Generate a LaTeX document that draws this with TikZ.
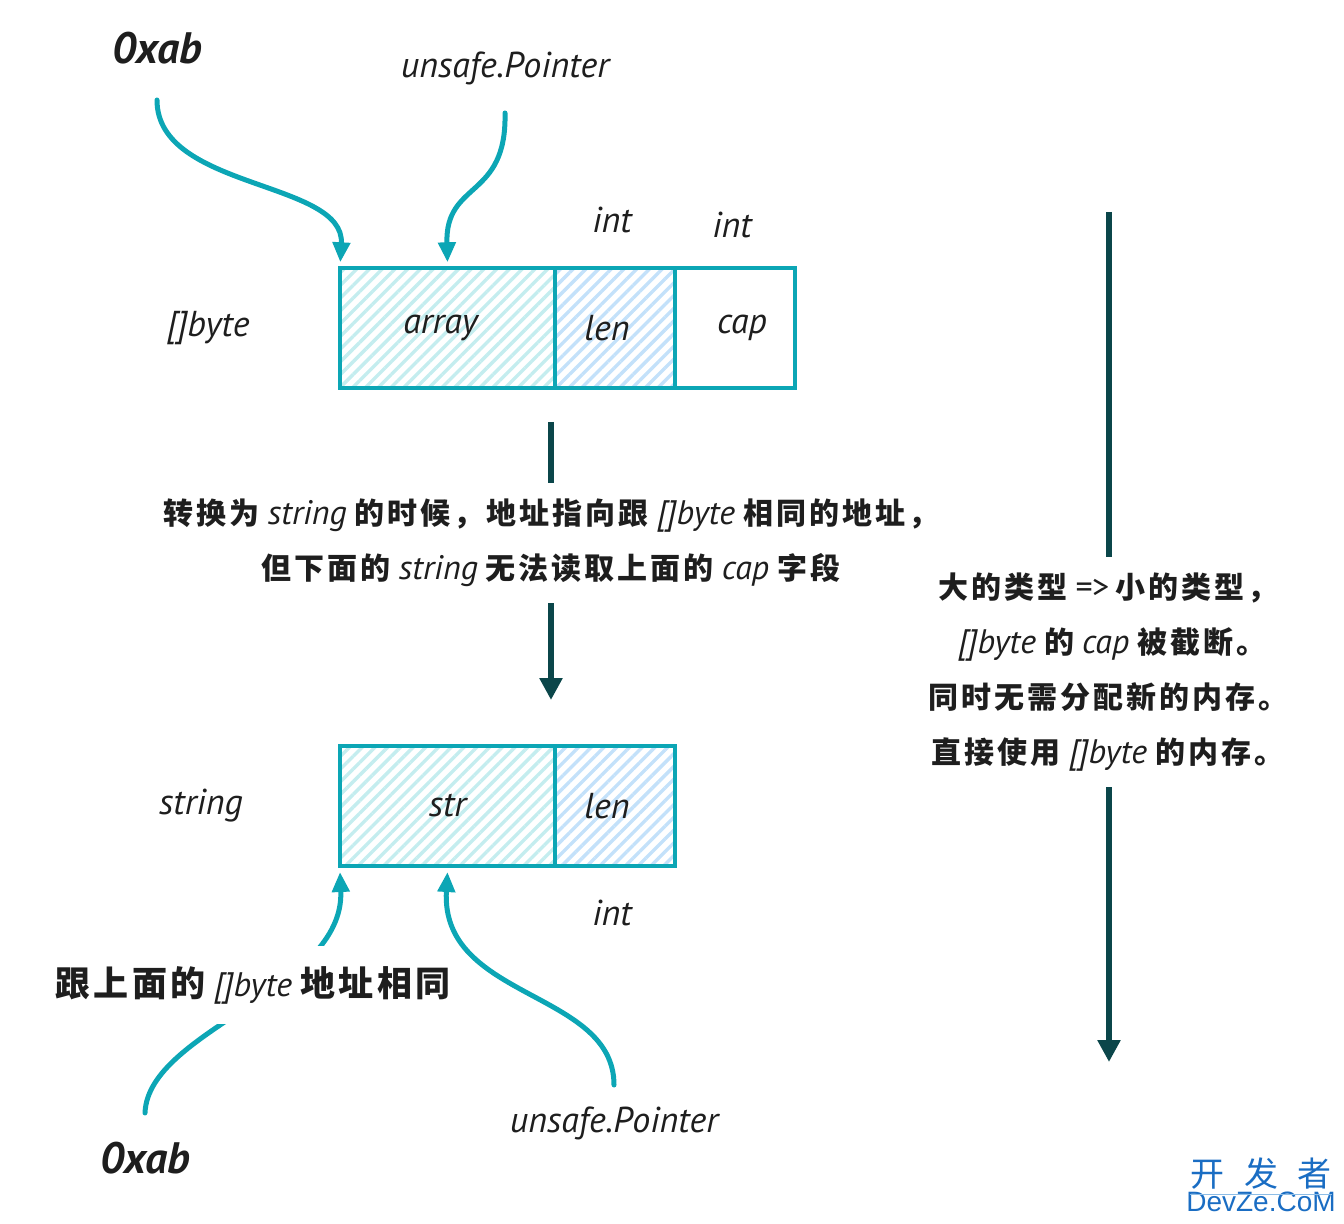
\documentclass[tikz,border=0pt]{standalone}
\usepackage{fontspec}
\setmainfont{PT Sans}
\newfontfamily\cjk{Noto Sans CJK SC}[LetterSpace=10]
\newfontfamily\wmcjk{Noto Sans CJK SC}
\newfontfamily\wmlat{Liberation Sans}
\usetikzlibrary{arrows.meta,patterns.meta}
\definecolor{ink}{HTML}{1E1E1E}
\definecolor{tealA}{HTML}{0CA6B5}
\definecolor{darkT}{HTML}{0B464A}
\definecolor{hatchA}{HTML}{C4EDEF}
\definecolor{hatchB}{HTML}{C3E1FA}
\definecolor{wmblue}{HTML}{1A6DC3}
\definecolor{wmline}{HTML}{8DBDE6}
\newcommand\zh[1]{{\cjk\bfseries #1}}
\newcommand\en[1]{\hspace{4pt}{\fontsize{17pt}{27.5pt}\selectfont\itshape #1}\hspace{4pt}}
\tikzset{
  lbl/.style={text=ink, font=\fontsize{18pt}{22pt}\selectfont\itshape, inner sep=0pt},
  biglbl/.style={text=ink, font=\fontsize{22pt}{26pt}\selectfont\itshape\bfseries, inner sep=0pt},
  cell/.style={draw=tealA, line width=2pt, minimum height=60pt, inner sep=0pt, text=ink,
    font=\fontsize{18pt}{22pt}\selectfont\itshape},
  hatchfillA/.style={pattern={Lines[angle=45,distance=4.5pt,line width=1.7pt]}, pattern color=hatchA},
  hatchfillB/.style={pattern={Lines[angle=45,distance=4.5pt,line width=1.7pt]}, pattern color=hatchB},
  tarrow/.style={draw=tealA, line width=2.5pt, line cap=round, -{Triangle[length=10pt,width=8.5pt]}},
  darrow/.style={draw=darkT, line width=3pt, -{Triangle[length=11pt,width=11pt]}},
  note/.style={fill=white, text=ink, align=center, inner xsep=4pt, inner ysep=8pt,
    font=\fontsize{15pt}{27.5pt}\selectfont}
}
\begin{document}
\begin{tikzpicture}[x=0.5pt,y=-0.5pt]
\useasboundingbox (0,0) rectangle (1344,1224);
% labels
\node[biglbl] (t0xab) at (157,48) {0xab};
\node[lbl] (tptr) at (505,68) {unsafe.Pointer};
\node[lbl] (int1) at (612,220) {int};
\node[lbl] (int2) at (732,225) {int};
\node[lbl] (lbyte) at (208,328) {[]byte};
% top boxes
\node[cell, hatchfillA, minimum width=107.5pt] (arr) at (447.5,328) {\hspace{-7pt}array};
\node[cell, hatchfillB, minimum width=60pt] (len1) at (615,328) {\hspace{-8pt}len};
\node[cell, fill=white, minimum width=60pt] (cap) at (735,328) {\hspace*{7pt}cap};
% bottom boxes
\node[lbl] (lstr) at (201,806) {string};
\node[cell, hatchfillA, minimum width=107.5pt] (str) at (447.5,806) {str};
\node[cell, hatchfillB, minimum width=60pt] (len2) at (615,806) {\hspace{-8pt}len};
\node[lbl] (int3) at (612,913) {int};
\node[biglbl] (b0xab) at (145,1158) {0xab};
\node[lbl] (bptr) at (614,1123) {unsafe.Pointer};
% connector ends
\coordinate (a1s) at (157,100);
\coordinate (a2s) at (505,113);
\coordinate (a3s) at (145,1113);
\coordinate (a4s) at (614,1085);
\coordinate (m1) at (551,422);
\coordinate (m2) at (551,700);
\coordinate (r1) at (1109,212);
\coordinate (r2) at (1109,1062);
% arrows
\draw[tarrow] (a1s) .. controls (157,190) and (345,180) .. ([xshift=1pt,yshift=2pt]arr.north west);
\draw[tarrow] (a2s) .. controls (507,200) and (445,180) .. ([yshift=2pt]arr.north);
\draw[tarrow] (a3s) .. controls (148,1030) and (345,990) .. ([xshift=1pt,yshift=-2pt]str.south west);
\draw[tarrow] (a4s) .. controls (614,990) and (440,1000) .. ([yshift=-2pt]str.south);
\draw[darrow] (m1) -- (m2);
\draw[darrow] (r1) -- (r2);
% notes over arrows
\node[note] (midnote) at (551,543) {\zh{转换为}\en{string}\zh{的时候，地址指向跟}\en{[]byte}\zh{相同的地址，}\\
  \zh{但下面的}\en{string}\zh{无法读取上面的}\en{cap}\zh{字段}};
\node[note, inner ysep=10pt, font=\fontsize{17.5pt}{27.5pt}\selectfont] (lnote) at (253,985) {\zh{跟上面的}\en{[]byte}\zh{地址相同}};
\node[note] (rnote) at (1108,672) {\zh{大的类型}\en{=>}\zh{小的类型，}\\
  \en{[]byte}\zh{的}\en{cap}\zh{被截断。}\\
  \zh{同时无需分配新的内存。}\\
  \zh{直接使用}\en{[]byte}\zh{的内存。}};
% watermark
\node[text=wmblue, font=\wmcjk\fontsize{17pt}{20pt}\selectfont, inner sep=0pt] (wm1) at (1261,1174) {开\hspace{10pt}发\hspace{10pt}者};
\node[text=wmblue, font=\wmlat\fontsize{14pt}{16pt}\selectfont, inner sep=0pt] (wm2) at (1261,1202) {DevZe.CoM};
\draw[wmline, line width=0.6pt] ([yshift=-2pt]wm1.south west) -- ([yshift=-2pt]wm1.south east);
\end{tikzpicture}
\end{document}
